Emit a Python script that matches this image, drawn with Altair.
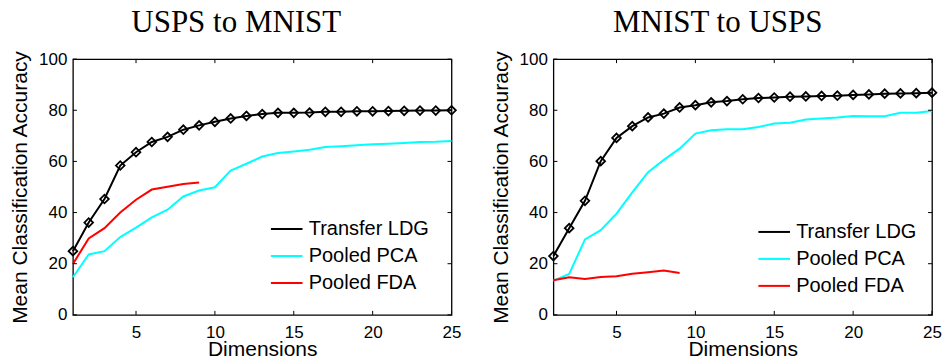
import altair as alt
import pandas as pd

dims = list(range(1, 26))
fda_dims = list(range(1, 10))

methods = ["Transfer LDG", "Pooled PCA", "Pooled FDA"]
colors = ["#000000", "#00ffff", "#ff0000"]
x_ticks = [5, 10, 15, 20, 25]
y_ticks = [0, 20, 40, 60, 80, 100]

# USPS to MNIST
u2m_ldg = [24.9, 36.1, 45.3, 58.4, 63.6, 67.6, 69.6, 72.4, 74.1, 75.5, 76.8, 77.8, 78.5,
           79.0, 79.0, 79.1, 79.4, 79.4, 79.6, 79.6, 79.7, 79.8, 79.9, 79.9, 80.0]
u2m_pca = [14.7, 23.6, 24.9, 30.4, 34.1, 38.1, 41.1, 46.3, 48.6, 49.9, 56.4, 59.1, 61.9,
           63.3, 63.9, 64.6, 65.6, 65.9, 66.3, 66.7, 66.9, 67.2, 67.6, 67.7, 68.0]
u2m_fda = [19.9, 29.9, 33.9, 40.0, 45.0, 49.0, 50.1, 51.2, 51.8]

# MNIST to USPS
m2u_ldg = [23.0, 33.9, 44.6, 60.1, 69.2, 73.8, 77.2, 78.7, 81.1, 82.0, 83.1, 83.6, 84.3,
           84.8, 85.0, 85.3, 85.4, 85.6, 85.7, 86.0, 86.2, 86.5, 86.6, 86.7, 86.9]
m2u_pca = [13.4, 16.0, 29.5, 33.1, 39.6, 47.9, 55.8, 60.6, 65.0, 70.9, 72.2, 72.6, 72.6,
           73.5, 74.8, 75.1, 76.4, 76.8, 77.2, 77.8, 77.7, 77.7, 79.0, 79.0, 79.7]
m2u_fda = [13.5, 14.7, 14.0, 14.8, 15.1, 16.1, 16.7, 17.3, 16.4]

W = 379
H = 256
TICK = 4


def panel(title, ldg, pca, fda, dx, leg_x, leg_y, row_pad):
    df = pd.DataFrame({
        "dim": dims + dims + fda_dims,
        "acc": ldg + pca + fda,
        "method": [methods[0]] * len(ldg) + [methods[1]] * len(pca) + [methods[2]] * len(fda),
    })
    xscale = alt.Scale(domain=[1, 25], nice=False, zero=False)
    yscale = alt.Scale(domain=[0, 100], nice=False, zero=False)
    x = alt.X("dim:Q", scale=xscale,
              axis=alt.Axis(values=x_ticks, title="Dimensions", labelFlush=False,
                            labelPadding=10, titlePadding=-2))
    y = alt.Y("acc:Q", scale=yscale,
              axis=alt.Axis(values=y_ticks, title="Mean Classification Accuracy",
                            labelPadding=6, titlePadding=8))
    color = alt.Color("method:N", scale=alt.Scale(domain=methods, range=colors),
                      legend=alt.Legend(title=None, orient="none", legendX=leg_x, legendY=leg_y,
                                        symbolType="stroke", symbolStrokeWidth=2,
                                        symbolSize=1000, labelFontSize=20,
                                        labelFont="Liberation Sans", labelOffset=5,
                                        rowPadding=row_pad, labelColor="black"))
    lines = alt.Chart(df).mark_line(strokeWidth=2).encode(x=x, y=y, color=color)
    pts = alt.Chart(df).transform_filter(
        alt.datum.method == methods[0]
    ).mark_point(shape="diamond", size=75, filled=False, color="black",
                 strokeWidth=1.8, opacity=1).encode(x=x, y=y)

    xt = pd.DataFrame({"dim": x_ticks})
    yt = pd.DataFrame({"acc": y_ticks})
    xb = alt.Chart(xt).mark_rule(color="black", strokeWidth=1).encode(
        x=x, y=alt.value(H), y2=alt.value(H - TICK))
    xtop = alt.Chart(xt).mark_rule(color="black", strokeWidth=1).encode(
        x=x, y=alt.value(0), y2=alt.value(TICK))
    yl = alt.Chart(yt).mark_rule(color="black", strokeWidth=1).encode(
        y=y, x=alt.value(0), x2=alt.value(TICK))
    yr = alt.Chart(yt).mark_rule(color="black", strokeWidth=1).encode(
        y=y, x=alt.value(W), x2=alt.value(W - TICK))

    return alt.layer(lines, pts, xb, xtop, yl, yr).properties(
        width=W, height=H,
        title=alt.TitleParams(title, font="Liberation Serif", fontSize=31,
                              fontWeight="normal", dx=dx, offset=11, color="black"),
    )


left = panel("USPS to MNIST", u2m_ldg, u2m_pca, u2m_fda, -26, 197, 153, -6.5)
right = panel("MNIST to USPS", m2u_ldg, m2u_pca, m2u_fda, -25, 204, 156, -3.5)

chart = alt.hconcat(left, right, spacing=26).resolve_scale(color="independent").properties(
    padding={"left": 8, "top": 6, "right": 2, "bottom": 0},
    background="white",
).configure_view(
    stroke="black", strokeWidth=1.3
).configure_axis(
    grid=False, domain=False, ticks=False,
    labelFont="Liberation Sans", labelFontSize=17, labelColor="black",
    titleFont="Liberation Sans", titleFontSize=21, titleFontWeight="normal", titleColor="black",
)

chart.save("out.html", embed_options={"renderer": "svg", "actions": False})
